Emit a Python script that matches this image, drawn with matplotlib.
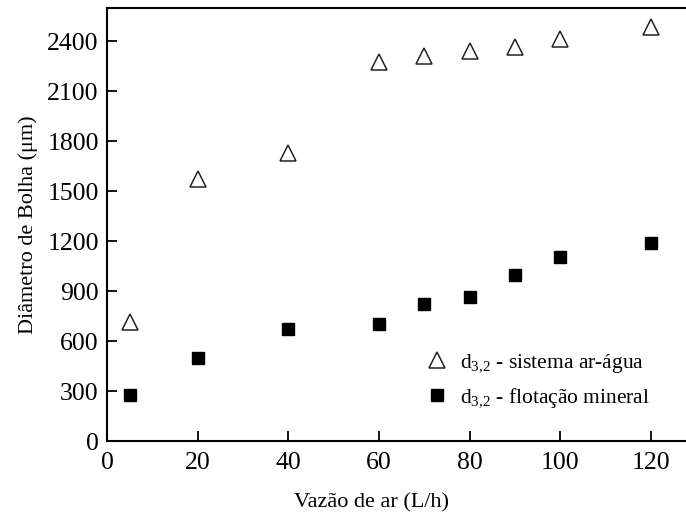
import matplotlib
matplotlib.use("Agg")
import matplotlib.pyplot as plt

plt.rcParams['font.family'] = ['Liberation Serif', 'DejaVu Serif']
plt.rcParams['mathtext.fontset'] = 'custom'
plt.rcParams['mathtext.rm'] = 'Liberation Serif'
plt.rcParams['mathtext.it'] = 'Liberation Serif'

# Dados
vazao = [5, 20, 40, 60, 70, 80, 90, 100, 120]
d32_ar_agua = [716, 1574, 1730, 2276, 2314, 2344, 2364, 2414, 2486]
d32_flotacao = [276, 497, 672, 706, 824, 864, 1000, 1106, 1190]

fig = plt.figure(figsize=(6.86, 5.19), dpi=100)
ax = fig.add_axes([0.156, 0.150, 0.844, 0.8346])

ax.plot(vazao, d32_ar_agua, linestyle='none', marker='^', markersize=12,
        markerfacecolor='white', markeredgecolor='#222222', markeredgewidth=1.1,
        label=r'd$_{3{,}2}$ - sistema ar-água')
ax.plot(vazao, d32_flotacao, linestyle='none', marker='s', markersize=8.8,
        markerfacecolor='black', markeredgecolor='black',
        label=r'd$_{3{,}2}$ - flotação mineral')

ax.set_xlim(0, 127.7)
ax.set_ylim(0, 2600)
ax.set_xticks(range(0, 121, 20))
ax.set_yticks(range(0, 2401, 300))

for s in ['left', 'bottom', 'top']:
    ax.spines[s].set_linewidth(1.5)
ax.spines['right'].set_visible(False)

ax.tick_params(direction='in', length=7, width=1.3, labelsize=18.5)
ax.tick_params(axis='y', pad=6)
ax.tick_params(axis='x', pad=8)

ax.set_xlabel('Vazão de ar (L/h)', fontsize=16)
ax.set_ylabel('Diâmetro de Bolha (μm)', fontsize=16)
ax.xaxis.set_label_coords(0.456, -0.12)
ax.yaxis.set_label_coords(-0.12, 0.5)

ax.legend(loc='center left', bbox_to_anchor=(0.552, 0.139), frameon=False,
          fontsize=15.5, handlelength=1.0, handletextpad=0.55,
          borderpad=0, borderaxespad=0, labelspacing=0.55)

fig.savefig('out.png', dpi=100)
